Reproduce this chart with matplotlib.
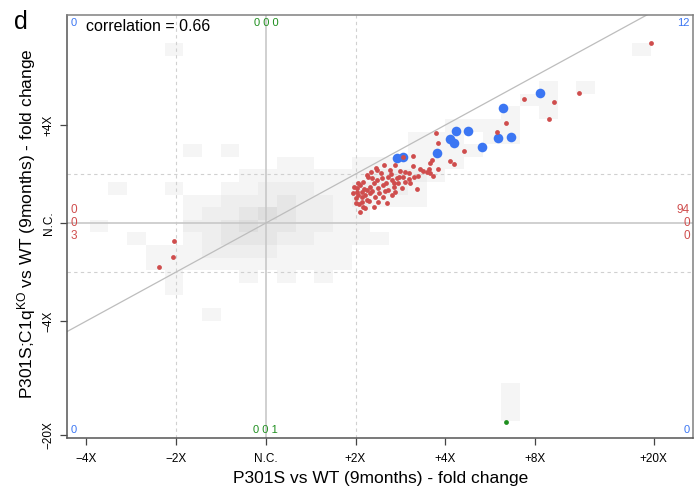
import numpy as np
import matplotlib
matplotlib.use('Agg')
import matplotlib.pyplot as plt
from matplotlib.colors import ListedColormap

plt.rcParams['font.family'] = ['Liberation Sans', 'DejaVu Sans']
plt.rcParams['mathtext.default'] = 'regular'

# log2 fold changes: x = P301S vs WT, y = P301S;C1qKO vs WT
blue_x = [1.460, 1.527, 1.904, 2.055, 2.099, 2.118, 2.248, 2.404, 2.586, 2.727, 2.638, 3.050]
blue_y = [1.320, 1.341, 1.429, 1.714, 1.627, 1.884, 1.871, 1.557, 1.741, 1.761, 2.341, 2.647]

red_x = [4.295, 3.493, 3.214, 3.158, 2.872, 2.673, 2.575, 1.893, 1.924, 2.203,
         2.049, 2.094, 1.639, 1.639, 1.851, 1.824, 1.720, 1.757, 1.813, 1.795,
         1.924, 1.868, 1.553, 1.534, 1.590, 1.527, 1.441, 1.322, 1.226, 1.683,
         1.646, 1.497, 1.460, 1.405, 1.367, 1.293, 1.237, 1.182, 1.126, 1.088,
         1.051, 1.015, 1.032, 1.070, 1.107, 1.126, 1.163, 1.200, 1.255, 1.311,
         1.367, 1.423, 1.478, 1.516, 1.553, 1.311, 1.349, 1.200, 1.088, 1.051,
         1.126, 1.070, 1.237, 1.832, 1.144, 1.001, 1.018, 1.040, 1.163, 1.219,
         1.263, 1.341, 1.397, 1.441, 1.598, 1.023, 1.096, 1.152, 1.252, 1.386,
         1.285, 1.486, 0.968, 0.984, 1.074, 1.185, 1.330, 1.430, 1.107, 1.007,
         1.698, 1.174, 1.408, 1.609,
         -1.022, -1.030, -1.186]
red_y = [3.667, 2.647, 2.463, 2.129, 2.524, 2.035, 1.857, 1.831, 1.643, 1.463,
         1.276, 1.204, 1.367, 1.163, 1.286, 1.218, 1.096, 1.071, 1.108, 1.041,
         1.108, 0.959, 1.051, 0.945, 0.908, 1.341, 1.184, 1.184, 1.116, 0.704,
         0.939, 1.061, 0.912, 0.878, 0.945, 0.912, 0.878, 0.912, 0.980, 0.843,
         0.776, 0.639, 0.571, 0.537, 0.571, 0.673, 0.741, 0.810, 0.708, 0.776,
         0.673, 0.741, 0.810, 0.708, 0.843, 0.537, 0.402, 0.333, 0.333, 0.231,
         0.469, 0.435, 1.082, 1.014, 0.945, 0.510, 0.714, 0.388, 0.612, 0.531,
         0.622, 0.816, 1.000, 0.633, 1.020, 0.816, 0.694, 0.449, 0.429, 1.092,
         1.020, 0.939, 0.612, 0.735, 0.633, 0.663, 0.653, 0.816, 0.316, 0.408,
         0.959, 1.041, 0.571, 0.816,
         -0.367, -0.694, -0.904]

green_x = [2.679]
green_y = [-4.067]

# density of all genes: (column, row, level) on the binning grid
HEAT_X0, HEAT_DX = -0.294, 0.2085
HEAT_Y0, HEAT_DY = -0.19, 0.257
heat_cells = [
    (-4, 14, 1), (21, 14, 1),
    (16, 11, 1), (18, 11, 1),
    (15, 10, 1), (16, 10, 1),
    (14, 9, 1), (16, 9, 1),
    (11, 8, 1), (12, 8, 1), (13, 8, 1), (14, 8, 1),
    (9, 7, 1), (10, 7, 1), (11, 7, 1), (13, 7, 1), (14, 7, 1),
    (-3, 6, 1), (-1, 6, 1), (9, 6, 1), (10, 6, 1), (11, 6, 1), (12, 6, 1),
    (2, 5, 1), (3, 5, 1), (6, 5, 1), (7, 5, 1), (8, 5, 1), (9, 5, 1), (10, 5, 1), (11, 5, 1),
    (0, 4, 1), (1, 4, 1), (2, 4, 1), (3, 4, 1), (4, 4, 1), (5, 4, 1), (6, 4, 1), (7, 4, 2),
    (8, 4, 2), (9, 4, 2), (10, 4, 1),
    (-7, 3, 1), (-4, 3, 1), (-1, 3, 1), (0, 3, 1), (1, 3, 2), (2, 3, 2), (3, 3, 2), (4, 3, 1),
    (5, 3, 1), (6, 3, 2), (7, 3, 2), (8, 3, 2), (9, 3, 1),
    (-3, 2, 1), (-2, 2, 1), (-1, 2, 2), (0, 2, 2), (1, 2, 2), (2, 2, 3), (3, 2, 2), (4, 2, 2),
    (5, 2, 1), (6, 2, 2), (7, 2, 1), (8, 2, 1), (9, 2, 1),
    (-3, 1, 1), (-2, 1, 2), (-1, 1, 2), (0, 1, 3), (1, 1, 4), (2, 1, 3), (3, 1, 2), (4, 1, 2),
    (5, 1, 1), (6, 1, 1),
    (-8, 0, 1), (-3, 0, 2), (-2, 0, 2), (-1, 0, 3), (0, 0, 4), (1, 0, 3), (2, 0, 3), (3, 0, 2),
    (4, 0, 2), (5, 0, 1), (6, 0, 1),
    (-6, -1, 1), (-3, -1, 1), (-2, -1, 2), (-1, -1, 3), (0, -1, 3), (1, -1, 3), (2, -1, 2),
    (3, -1, 2), (4, -1, 1), (5, -1, 1), (6, -1, 1), (7, -1, 1),
    (-5, -2, 1), (-4, -2, 1), (-3, -2, 1), (-2, -2, 2), (-1, -2, 2), (0, -2, 2), (1, -2, 2),
    (2, -2, 1), (3, -2, 1), (4, -2, 1), (5, -2, 1),
    (-5, -3, 1), (-4, -3, 1), (-3, -3, 1), (-2, -3, 1), (-1, -3, 1), (0, -3, 1), (1, -3, 1),
    (2, -3, 1), (3, -3, 1), (4, -3, 1), (5, -3, 1),
    (-4, -4, 1), (0, -4, 1), (2, -4, 1), (4, -4, 1),
    (-4, -5, 1), (-2, -7, 1),
    (14, -13, 1), (14, -14, 1), (14, -15, 1),
]

x_ticks = [-2, -1, 0, 1, 2, 3, np.log2(20)]
x_labels = ['\u22124X', '\u22122X', 'N.C.', '+2X', '+4X', '+8X', '+20X']
y_ticks = [2, 0, -2, -np.log2(20)]
y_labels = ['+4X', 'N.C.', '\u22124X', '\u221220X']

# gene counts per region
corner_counts = {'tl': '0', 'tr': '12', 'bl': '0', 'br': '0'}
top_counts = '0 0 0'
bottom_counts = '0 0 1'
left_counts = ['0', '0', '3']
right_counts = ['94', '0', '0']
correlation = 0.66

BLUE = '#3b76f3'
RED = '#cf4d4d'
GREEN = '#1f8f1f'
XLIM = (-2.215, 4.76)
YLIM = (-4.38, 4.245)

fig = plt.figure(figsize=(6.99, 4.94), dpi=100)
ax = fig.add_axes([0.0959, 0.114, 0.8955, 0.8556])

# density background
cols = [c for c, r, v in heat_cells]
rows = [r for c, r, v in heat_cells]
c_min, c_max = min(cols), max(cols)
r_min, r_max = min(rows), max(rows)
grid = np.full((r_max - r_min + 1, c_max - c_min + 1), np.nan)
for c, r, v in heat_cells:
    grid[r - r_min, c - c_min] = v
x_edges = HEAT_X0 + HEAT_DX * np.arange(c_min, c_max + 2)
y_edges = HEAT_Y0 + HEAT_DY * np.arange(r_min, r_max + 2)
heat_cmap = ListedColormap(['#f5f5f5', '#eeeeee', '#e6e6e6', '#dedede'])
ax.pcolormesh(x_edges, y_edges, np.ma.masked_invalid(grid), cmap=heat_cmap,
              vmin=0.5, vmax=4.5, zorder=0)

# reference lines
for v in (-1, 1):
    ax.axvline(v, color='#d0d0d0', lw=0.8, ls=(0, (3, 3)), zorder=1)
    ax.axhline(v, color='#d0d0d0', lw=0.8, ls=(0, (3, 3)), zorder=1)
ax.axvline(0, color='#c8c8c8', lw=1.2, zorder=1)
ax.axhline(0, color='#c8c8c8', lw=1.2, zorder=1)
ax.plot(XLIM, XLIM, color='#bdbdbd', lw=0.9, zorder=2)

ax.scatter(blue_x, blue_y, s=48, color=BLUE, lw=0, zorder=3)
ax.scatter(red_x, red_y, s=12, color=RED, lw=0, zorder=4)
ax.scatter(green_x, green_y, s=12, color=GREEN, lw=0, zorder=4)

ax.set_xlim(XLIM)
ax.set_ylim(YLIM)
ax.set_xticks(x_ticks, x_labels, fontsize=8.5)
ax.set_yticks(y_ticks, y_labels, fontsize=8.5, rotation=90, va='center')
ax.tick_params(axis='both', length=5, width=0.9, color='#444444')
ax.tick_params(axis='x', pad=6)
ax.tick_params(axis='y', pad=4)
for side, sp in ax.spines.items():
    sp.set_linewidth(1.1)
    sp.set_color('#555555' if side in ('left', 'bottom') else '#808080')

# counts of genes in each region
ax.text(0.006, 0.981, corner_counts['tl'], transform=ax.transAxes, color=BLUE,
        fontsize=8, ha='left', va='center')
ax.text(0.995, 0.981, corner_counts['tr'], transform=ax.transAxes, color=BLUE,
        fontsize=8, ha='right', va='center')
ax.text(0.006, 0.019, corner_counts['bl'], transform=ax.transAxes, color=BLUE,
        fontsize=8, ha='left', va='center')
ax.text(0.995, 0.019, corner_counts['br'], transform=ax.transAxes, color=BLUE,
        fontsize=8, ha='right', va='center')
blend = ax.get_xaxis_transform()
ax.text(0, 0.981, top_counts, transform=blend, color=GREEN, fontsize=8,
        ha='center', va='center')
ax.text(0, 0.019, bottom_counts, transform=blend, color=GREEN, fontsize=8,
        ha='center', va='center')
yblend = ax.get_yaxis_transform()
for i, (lt, rt) in enumerate(zip(left_counts, right_counts)):
    yy = 0.265 * (1 - i)
    ax.text(0.006, yy, lt, transform=yblend, color=RED, fontsize=8.5,
            ha='left', va='center')
    ax.text(0.995, yy, rt, transform=yblend, color=RED, fontsize=8.5,
            ha='right', va='center')

ax.text(0.030, 0.974, f'correlation = {correlation:.2f}', transform=ax.transAxes,
        fontsize=11.5, ha='left', va='center')

fig.text(381 / 699, 1 - 478 / 494, 'P301S vs WT (9months) - fold change',
         fontsize=12.5, ha='center', va='center')
fig.text(27 / 699, 1 - 224 / 494,
         'P301S;C1q$^{KO}$ vs WT (9months) - fold change',
         fontsize=12.5, ha='center', va='center', rotation=90)
fig.text(14 / 699, 1 - 29 / 494, 'd', fontsize=18, ha='left', va='baseline')

fig.savefig('out.png', dpi=100)
